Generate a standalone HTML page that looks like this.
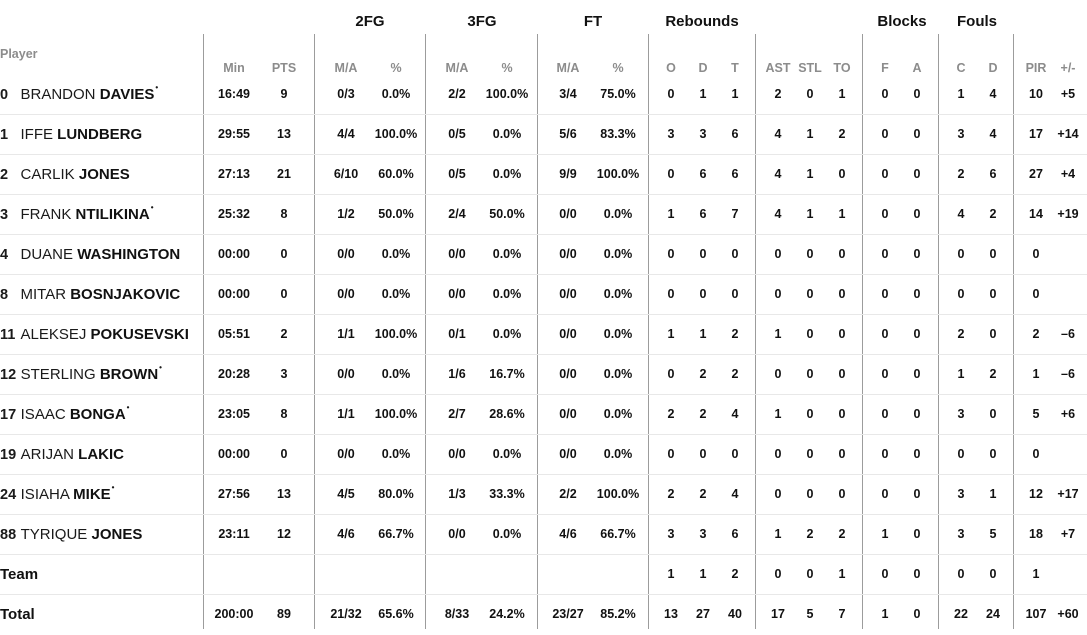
<!DOCTYPE html>
<html><head><meta charset="utf-8"><style>
html,body{margin:0;padding:0;background:#fff;}
body{width:1087px;height:629px;position:relative;overflow:hidden;font-family:"Liberation Sans",Arial,sans-serif;color:#111;}
.v{position:absolute;top:34px;width:1px;height:595px;background:#9c9c9c;}
.h{position:absolute;left:0;width:1087px;height:1px;background:#e8e8e8;}
.g{position:absolute;top:10px;height:24px;line-height:24px;font-weight:bold;font-size:15px;text-align:center;width:120px;}
.hd{position:absolute;top:58px;height:20px;line-height:20px;font-weight:bold;font-size:12.5px;color:#8c8c8c;text-align:center;width:60px;}
.r{position:absolute;left:0;width:1087px;height:40px;line-height:40px;}
.c{position:absolute;top:0;width:60px;text-align:center;font-weight:bold;font-size:12.5px;}
.nm{position:absolute;left:0;top:1px;font-size:15px;white-space:nowrap;color:#1a1a1a;}
.nm .n{display:inline-block;min-width:16px;margin-right:4.5px;font-weight:bold;font-size:14.5px;}
.nm b{font-weight:bold;color:#111;}
.nm sup{font-size:8px;font-weight:bold;vertical-align:top;position:relative;top:-7px;margin-left:1px;}
.lb{position:absolute;left:0;top:1px;font-size:15px;font-weight:bold;}
</style></head><body>

<div class="v" style="left:203px"></div>
<div class="v" style="left:314px"></div>
<div class="v" style="left:425px"></div>
<div class="v" style="left:537px"></div>
<div class="v" style="left:648px"></div>
<div class="v" style="left:755px"></div>
<div class="v" style="left:862px"></div>
<div class="v" style="left:938px"></div>
<div class="v" style="left:1013px"></div>

<div class="h" style="top:114px"></div>
<div class="h" style="top:154px"></div>
<div class="h" style="top:194px"></div>
<div class="h" style="top:234px"></div>
<div class="h" style="top:274px"></div>
<div class="h" style="top:314px"></div>
<div class="h" style="top:354px"></div>
<div class="h" style="top:394px"></div>
<div class="h" style="top:434px"></div>
<div class="h" style="top:474px"></div>
<div class="h" style="top:514px"></div>
<div class="h" style="top:554px"></div>
<div class="h" style="top:594px"></div>

<div class="g" style="left:310px">2FG</div>
<div class="g" style="left:422px">3FG</div>
<div class="g" style="left:533px">FT</div>
<div class="g" style="left:642px">Rebounds</div>
<div class="g" style="left:842px">Blocks</div>
<div class="g" style="left:917px">Fouls</div>

<div class="hd" style="left:0;top:44px;text-align:left;">Player</div>
<div class="hd" style="left:204px">Min</div>
<div class="hd" style="left:254px">PTS</div>
<div class="hd" style="left:316px">M/A</div>
<div class="hd" style="left:366px">%</div>
<div class="hd" style="left:427px">M/A</div>
<div class="hd" style="left:477px">%</div>
<div class="hd" style="left:538px">M/A</div>
<div class="hd" style="left:588px">%</div>
<div class="hd" style="left:641px">O</div>
<div class="hd" style="left:673px">D</div>
<div class="hd" style="left:705px">T</div>
<div class="hd" style="left:748px">AST</div>
<div class="hd" style="left:780px">STL</div>
<div class="hd" style="left:812px">TO</div>
<div class="hd" style="left:855px">F</div>
<div class="hd" style="left:887px">A</div>
<div class="hd" style="left:931px">C</div>
<div class="hd" style="left:963px">D</div>
<div class="hd" style="left:1006px">PIR</div>
<div class="hd" style="left:1038px">+/-</div>

<!-- row 0 -->
<div class="r" style="top:74px">
<div class="nm"><span class="n">0</span>BRANDON <b>DAVIES</b><sup>•</sup></div>
<div class="c" style="left:204px">16:49</div><div class="c" style="left:254px">9</div>
<div class="c" style="left:316px">0/3</div><div class="c" style="left:366px">0.0%</div>
<div class="c" style="left:427px">2/2</div><div class="c" style="left:477px">100.0%</div>
<div class="c" style="left:538px">3/4</div><div class="c" style="left:588px">75.0%</div>
<div class="c" style="left:641px">0</div><div class="c" style="left:673px">1</div><div class="c" style="left:705px">1</div>
<div class="c" style="left:748px">2</div><div class="c" style="left:780px">0</div><div class="c" style="left:812px">1</div>
<div class="c" style="left:855px">0</div><div class="c" style="left:887px">0</div>
<div class="c" style="left:931px">1</div><div class="c" style="left:963px">4</div>
<div class="c" style="left:1006px">10</div><div class="c" style="left:1038px">+5</div>
</div>
<!-- row 1 -->
<div class="r" style="top:114px">
<div class="nm"><span class="n">1</span>IFFE <b>LUNDBERG</b></div>
<div class="c" style="left:204px">29:55</div><div class="c" style="left:254px">13</div>
<div class="c" style="left:316px">4/4</div><div class="c" style="left:366px">100.0%</div>
<div class="c" style="left:427px">0/5</div><div class="c" style="left:477px">0.0%</div>
<div class="c" style="left:538px">5/6</div><div class="c" style="left:588px">83.3%</div>
<div class="c" style="left:641px">3</div><div class="c" style="left:673px">3</div><div class="c" style="left:705px">6</div>
<div class="c" style="left:748px">4</div><div class="c" style="left:780px">1</div><div class="c" style="left:812px">2</div>
<div class="c" style="left:855px">0</div><div class="c" style="left:887px">0</div>
<div class="c" style="left:931px">3</div><div class="c" style="left:963px">4</div>
<div class="c" style="left:1006px">17</div><div class="c" style="left:1038px">+14</div>
</div>
<!-- row 2 -->
<div class="r" style="top:154px">
<div class="nm"><span class="n">2</span>CARLIK <b>JONES</b></div>
<div class="c" style="left:204px">27:13</div><div class="c" style="left:254px">21</div>
<div class="c" style="left:316px">6/10</div><div class="c" style="left:366px">60.0%</div>
<div class="c" style="left:427px">0/5</div><div class="c" style="left:477px">0.0%</div>
<div class="c" style="left:538px">9/9</div><div class="c" style="left:588px">100.0%</div>
<div class="c" style="left:641px">0</div><div class="c" style="left:673px">6</div><div class="c" style="left:705px">6</div>
<div class="c" style="left:748px">4</div><div class="c" style="left:780px">1</div><div class="c" style="left:812px">0</div>
<div class="c" style="left:855px">0</div><div class="c" style="left:887px">0</div>
<div class="c" style="left:931px">2</div><div class="c" style="left:963px">6</div>
<div class="c" style="left:1006px">27</div><div class="c" style="left:1038px">+4</div>
</div>
<!-- row 3 -->
<div class="r" style="top:194px">
<div class="nm"><span class="n">3</span>FRANK <b>NTILIKINA</b><sup>•</sup></div>
<div class="c" style="left:204px">25:32</div><div class="c" style="left:254px">8</div>
<div class="c" style="left:316px">1/2</div><div class="c" style="left:366px">50.0%</div>
<div class="c" style="left:427px">2/4</div><div class="c" style="left:477px">50.0%</div>
<div class="c" style="left:538px">0/0</div><div class="c" style="left:588px">0.0%</div>
<div class="c" style="left:641px">1</div><div class="c" style="left:673px">6</div><div class="c" style="left:705px">7</div>
<div class="c" style="left:748px">4</div><div class="c" style="left:780px">1</div><div class="c" style="left:812px">1</div>
<div class="c" style="left:855px">0</div><div class="c" style="left:887px">0</div>
<div class="c" style="left:931px">4</div><div class="c" style="left:963px">2</div>
<div class="c" style="left:1006px">14</div><div class="c" style="left:1038px">+19</div>
</div>
<!-- row 4 -->
<div class="r" style="top:234px">
<div class="nm"><span class="n">4</span>DUANE <b>WASHINGTON</b></div>
<div class="c" style="left:204px">00:00</div><div class="c" style="left:254px">0</div>
<div class="c" style="left:316px">0/0</div><div class="c" style="left:366px">0.0%</div>
<div class="c" style="left:427px">0/0</div><div class="c" style="left:477px">0.0%</div>
<div class="c" style="left:538px">0/0</div><div class="c" style="left:588px">0.0%</div>
<div class="c" style="left:641px">0</div><div class="c" style="left:673px">0</div><div class="c" style="left:705px">0</div>
<div class="c" style="left:748px">0</div><div class="c" style="left:780px">0</div><div class="c" style="left:812px">0</div>
<div class="c" style="left:855px">0</div><div class="c" style="left:887px">0</div>
<div class="c" style="left:931px">0</div><div class="c" style="left:963px">0</div>
<div class="c" style="left:1006px">0</div>
</div>
<!-- row 5 -->
<div class="r" style="top:274px">
<div class="nm"><span class="n">8</span>MITAR <b>BOSNJAKOVIC</b></div>
<div class="c" style="left:204px">00:00</div><div class="c" style="left:254px">0</div>
<div class="c" style="left:316px">0/0</div><div class="c" style="left:366px">0.0%</div>
<div class="c" style="left:427px">0/0</div><div class="c" style="left:477px">0.0%</div>
<div class="c" style="left:538px">0/0</div><div class="c" style="left:588px">0.0%</div>
<div class="c" style="left:641px">0</div><div class="c" style="left:673px">0</div><div class="c" style="left:705px">0</div>
<div class="c" style="left:748px">0</div><div class="c" style="left:780px">0</div><div class="c" style="left:812px">0</div>
<div class="c" style="left:855px">0</div><div class="c" style="left:887px">0</div>
<div class="c" style="left:931px">0</div><div class="c" style="left:963px">0</div>
<div class="c" style="left:1006px">0</div>
</div>
<!-- row 6 -->
<div class="r" style="top:314px">
<div class="nm"><span class="n">11</span>ALEKSEJ <b>POKUSEVSKI</b></div>
<div class="c" style="left:204px">05:51</div><div class="c" style="left:254px">2</div>
<div class="c" style="left:316px">1/1</div><div class="c" style="left:366px">100.0%</div>
<div class="c" style="left:427px">0/1</div><div class="c" style="left:477px">0.0%</div>
<div class="c" style="left:538px">0/0</div><div class="c" style="left:588px">0.0%</div>
<div class="c" style="left:641px">1</div><div class="c" style="left:673px">1</div><div class="c" style="left:705px">2</div>
<div class="c" style="left:748px">1</div><div class="c" style="left:780px">0</div><div class="c" style="left:812px">0</div>
<div class="c" style="left:855px">0</div><div class="c" style="left:887px">0</div>
<div class="c" style="left:931px">2</div><div class="c" style="left:963px">0</div>
<div class="c" style="left:1006px">2</div><div class="c" style="left:1038px">–6</div>
</div>
<!-- row 7 -->
<div class="r" style="top:354px">
<div class="nm"><span class="n">12</span>STERLING <b>BROWN</b><sup>•</sup></div>
<div class="c" style="left:204px">20:28</div><div class="c" style="left:254px">3</div>
<div class="c" style="left:316px">0/0</div><div class="c" style="left:366px">0.0%</div>
<div class="c" style="left:427px">1/6</div><div class="c" style="left:477px">16.7%</div>
<div class="c" style="left:538px">0/0</div><div class="c" style="left:588px">0.0%</div>
<div class="c" style="left:641px">0</div><div class="c" style="left:673px">2</div><div class="c" style="left:705px">2</div>
<div class="c" style="left:748px">0</div><div class="c" style="left:780px">0</div><div class="c" style="left:812px">0</div>
<div class="c" style="left:855px">0</div><div class="c" style="left:887px">0</div>
<div class="c" style="left:931px">1</div><div class="c" style="left:963px">2</div>
<div class="c" style="left:1006px">1</div><div class="c" style="left:1038px">–6</div>
</div>
<!-- row 8 -->
<div class="r" style="top:394px">
<div class="nm"><span class="n">17</span>ISAAC <b>BONGA</b><sup>•</sup></div>
<div class="c" style="left:204px">23:05</div><div class="c" style="left:254px">8</div>
<div class="c" style="left:316px">1/1</div><div class="c" style="left:366px">100.0%</div>
<div class="c" style="left:427px">2/7</div><div class="c" style="left:477px">28.6%</div>
<div class="c" style="left:538px">0/0</div><div class="c" style="left:588px">0.0%</div>
<div class="c" style="left:641px">2</div><div class="c" style="left:673px">2</div><div class="c" style="left:705px">4</div>
<div class="c" style="left:748px">1</div><div class="c" style="left:780px">0</div><div class="c" style="left:812px">0</div>
<div class="c" style="left:855px">0</div><div class="c" style="left:887px">0</div>
<div class="c" style="left:931px">3</div><div class="c" style="left:963px">0</div>
<div class="c" style="left:1006px">5</div><div class="c" style="left:1038px">+6</div>
</div>
<!-- row 9 -->
<div class="r" style="top:434px">
<div class="nm"><span class="n">19</span>ARIJAN <b>LAKIC</b></div>
<div class="c" style="left:204px">00:00</div><div class="c" style="left:254px">0</div>
<div class="c" style="left:316px">0/0</div><div class="c" style="left:366px">0.0%</div>
<div class="c" style="left:427px">0/0</div><div class="c" style="left:477px">0.0%</div>
<div class="c" style="left:538px">0/0</div><div class="c" style="left:588px">0.0%</div>
<div class="c" style="left:641px">0</div><div class="c" style="left:673px">0</div><div class="c" style="left:705px">0</div>
<div class="c" style="left:748px">0</div><div class="c" style="left:780px">0</div><div class="c" style="left:812px">0</div>
<div class="c" style="left:855px">0</div><div class="c" style="left:887px">0</div>
<div class="c" style="left:931px">0</div><div class="c" style="left:963px">0</div>
<div class="c" style="left:1006px">0</div>
</div>
<!-- row 10 -->
<div class="r" style="top:474px">
<div class="nm"><span class="n">24</span>ISIAHA <b>MIKE</b><sup>•</sup></div>
<div class="c" style="left:204px">27:56</div><div class="c" style="left:254px">13</div>
<div class="c" style="left:316px">4/5</div><div class="c" style="left:366px">80.0%</div>
<div class="c" style="left:427px">1/3</div><div class="c" style="left:477px">33.3%</div>
<div class="c" style="left:538px">2/2</div><div class="c" style="left:588px">100.0%</div>
<div class="c" style="left:641px">2</div><div class="c" style="left:673px">2</div><div class="c" style="left:705px">4</div>
<div class="c" style="left:748px">0</div><div class="c" style="left:780px">0</div><div class="c" style="left:812px">0</div>
<div class="c" style="left:855px">0</div><div class="c" style="left:887px">0</div>
<div class="c" style="left:931px">3</div><div class="c" style="left:963px">1</div>
<div class="c" style="left:1006px">12</div><div class="c" style="left:1038px">+17</div>
</div>
<!-- row 11 -->
<div class="r" style="top:514px">
<div class="nm"><span class="n">88</span>TYRIQUE <b>JONES</b></div>
<div class="c" style="left:204px">23:11</div><div class="c" style="left:254px">12</div>
<div class="c" style="left:316px">4/6</div><div class="c" style="left:366px">66.7%</div>
<div class="c" style="left:427px">0/0</div><div class="c" style="left:477px">0.0%</div>
<div class="c" style="left:538px">4/6</div><div class="c" style="left:588px">66.7%</div>
<div class="c" style="left:641px">3</div><div class="c" style="left:673px">3</div><div class="c" style="left:705px">6</div>
<div class="c" style="left:748px">1</div><div class="c" style="left:780px">2</div><div class="c" style="left:812px">2</div>
<div class="c" style="left:855px">1</div><div class="c" style="left:887px">0</div>
<div class="c" style="left:931px">3</div><div class="c" style="left:963px">5</div>
<div class="c" style="left:1006px">18</div><div class="c" style="left:1038px">+7</div>
</div>
<!-- Team -->
<div class="r" style="top:554px">
<div class="lb">Team</div>
<div class="c" style="left:641px">1</div><div class="c" style="left:673px">1</div><div class="c" style="left:705px">2</div>
<div class="c" style="left:748px">0</div><div class="c" style="left:780px">0</div><div class="c" style="left:812px">1</div>
<div class="c" style="left:855px">0</div><div class="c" style="left:887px">0</div>
<div class="c" style="left:931px">0</div><div class="c" style="left:963px">0</div>
<div class="c" style="left:1006px">1</div>
</div>
<!-- Total -->
<div class="r" style="top:594px">
<div class="lb">Total</div>
<div class="c" style="left:204px">200:00</div><div class="c" style="left:254px">89</div>
<div class="c" style="left:316px">21/32</div><div class="c" style="left:366px">65.6%</div>
<div class="c" style="left:427px">8/33</div><div class="c" style="left:477px">24.2%</div>
<div class="c" style="left:538px">23/27</div><div class="c" style="left:588px">85.2%</div>
<div class="c" style="left:641px">13</div><div class="c" style="left:673px">27</div><div class="c" style="left:705px">40</div>
<div class="c" style="left:748px">17</div><div class="c" style="left:780px">5</div><div class="c" style="left:812px">7</div>
<div class="c" style="left:855px">1</div><div class="c" style="left:887px">0</div>
<div class="c" style="left:931px">22</div><div class="c" style="left:963px">24</div>
<div class="c" style="left:1006px">107</div><div class="c" style="left:1038px">+60</div>
</div>

</body></html>
